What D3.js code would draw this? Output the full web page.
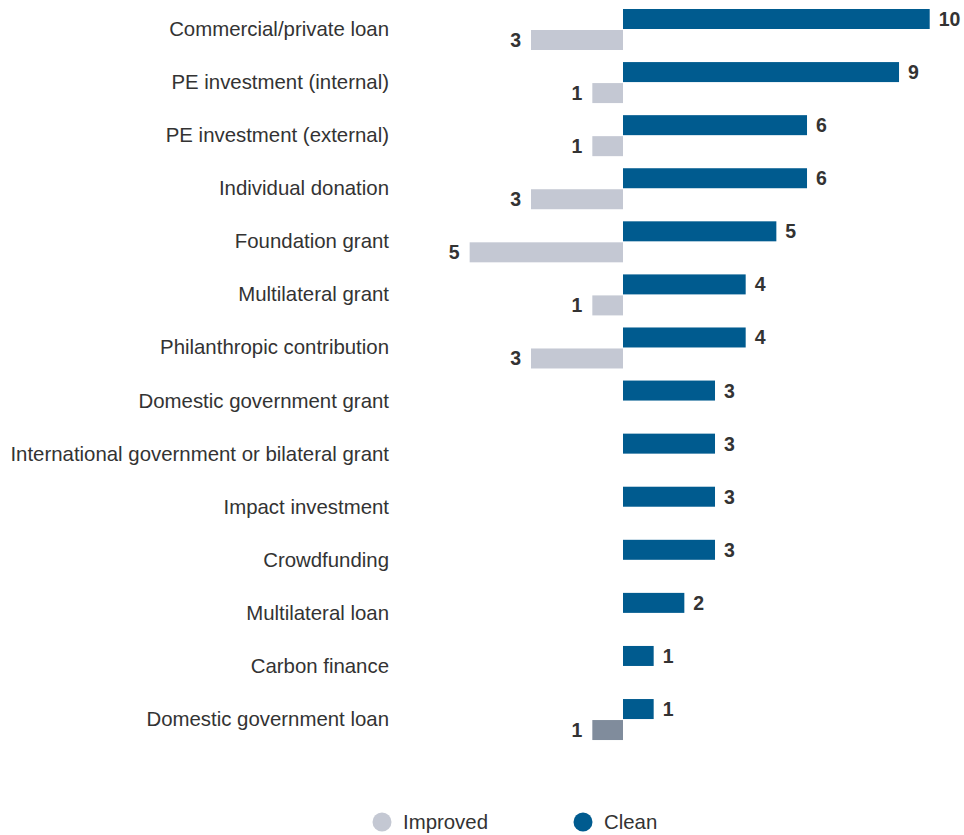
<!DOCTYPE html>
<html>
<head>
<meta charset="utf-8">
<script src="https://cdn.jsdelivr.net/npm/d3@7"></script>
<style>
  body { margin: 0; background: #fff; }
  svg { font-family: "Liberation Sans", Arial, sans-serif; }
</style>
</head>
<body>
<svg id="chart" width="964" height="835"></svg>
<script>
// data
const categories = [
  "Commercial/private loan",
  "PE investment (internal)",
  "PE investment (external)",
  "Individual donation",
  "Foundation grant",
  "Multilateral grant",
  "Philanthropic contribution",
  "Domestic government grant",
  "International government or bilateral grant",
  "Impact investment",
  "Crowdfunding",
  "Multilateral loan",
  "Carbon finance",
  "Domestic government loan"
];
const cleanValues    = [10, 9, 6, 6, 5, 4, 4, 3, 3, 3, 3, 2, 1, 1];
const improvedValues = [3, 1, 1, 3, 5, 1, 3, 0, 0, 0, 0, 0, 0, 1];
const legendLabels = ["Improved", "Clean"];

const blue = "#005b8f", grey = "#c4c8d3", darkGrey = "#808c9c", textCol = "#333";
const highlighted = "Domestic government loan";
const fs = 20.4, vfs = 19.5;

const svg = d3.select("#chart");

const x = d3.scaleLinear().domain([0, 10]).range([623, 929.7]);
const w = v => x(v) - x(0);
const y = d3.scaleBand().domain(categories).range([9, 740.04]).paddingInner(0.2276).paddingOuter(0).align(0);
const barH = 20;

const rows = categories.map((c, i) => ({ cat: c, clean: cleanValues[i], improved: improvedValues[i] }));

const g = svg.append("g");

// category labels
g.selectAll("text.cat").data(rows).enter().append("text")
  .attr("class", "cat")
  .attr("x", 389)
  .attr("y", d => y(d.cat) + 20)
  .attr("text-anchor", "end")
  .attr("dominant-baseline", "central")
  .attr("font-size", fs)
  .attr("fill", textCol)
  .text(d => d.cat);

// clean bars
g.selectAll("rect.clean").data(rows).enter().append("rect")
  .attr("class", "clean")
  .attr("x", x(0))
  .attr("y", d => y(d.cat))
  .attr("width", d => w(d.clean))
  .attr("height", barH)
  .attr("fill", blue);

g.selectAll("text.cleanVal").data(rows).enter().append("text")
  .attr("x", d => x(d.clean) + 9)
  .attr("y", d => y(d.cat) + barH / 2)
  .attr("dominant-baseline", "central")
  .attr("font-size", vfs)
  .attr("font-weight", "bold")
  .attr("fill", textCol)
  .text(d => d.clean);

// improved bars (drawn to the left)
const imp = rows.filter(d => d.improved > 0);
g.selectAll("rect.imp").data(imp).enter().append("rect")
  .attr("x", d => x(0) - w(d.improved))
  .attr("y", d => y(d.cat) + barH + 1)
  .attr("width", d => w(d.improved))
  .attr("height", barH)
  .attr("fill", d => d.cat === highlighted ? darkGrey : grey);

g.selectAll("text.impVal").data(imp).enter().append("text")
  .attr("x", d => x(0) - w(d.improved) - 10)
  .attr("y", d => y(d.cat) + barH + 1 + barH / 2)
  .attr("text-anchor", "end")
  .attr("dominant-baseline", "central")
  .attr("font-size", vfs)
  .attr("font-weight", "bold")
  .attr("fill", textCol)
  .text(d => d.improved);

// legend
const legend = svg.append("g");
const legX = [382, 583];
legendLabels.forEach((lab, i) => {
  legend.append("circle").attr("cx", legX[i]).attr("cy", 822).attr("r", 9.5)
    .attr("fill", i === 0 ? grey : blue);
  legend.append("text").attr("x", legX[i] + 21).attr("y", 822)
    .attr("dominant-baseline", "central")
    .attr("font-size", fs).attr("fill", textCol).text(lab);
});
</script>
</body>
</html>
